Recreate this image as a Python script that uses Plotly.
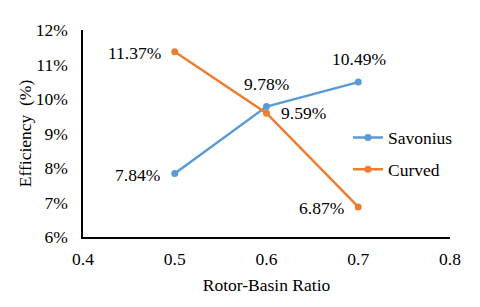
import plotly.graph_objects as go

ratios = [0.5, 0.6, 0.7]
savonius = [7.84, 9.78, 10.49]
curved = [11.37, 9.59, 6.87]
savonius_labels = ["7.84%", "9.78%", "10.49%"]
curved_labels = ["11.37%", "9.59%", "6.87%"]
y_ticks = [6, 7, 8, 9, 10, 11, 12]
y_tick_labels = ["6%", "7%", "8%", "9%", "10%", "11%", "12%"]
x_ticks = [0.4, 0.5, 0.6, 0.7, 0.8]
x_tick_labels = ["0.4", "0.5", "0.6", "0.7", "0.8"]

BLUE = "#5B9BD5"
ORANGE = "#ED7D31"
FONT = "Liberation Serif"
FS = 17.5

fig = go.Figure()
fig.add_trace(go.Scatter(x=ratios, y=savonius, mode="lines+markers", name="Savonius",
                         line=dict(color=BLUE, width=2.5), marker=dict(size=7, color=BLUE),
                         legendgroup="a"))
fig.add_trace(go.Scatter(x=ratios, y=curved, mode="lines+markers", name="Curved",
                         line=dict(color=ORANGE, width=2.5), marker=dict(size=7, color=ORANGE),
                         legendgroup="b"))

sav_shift = [(-37, -1), (0, 23), (1, 23)]
cur_shift = [(-40, -1), (37, 0), (-37, -1.5)]
for x, y, t, (dx, dy) in zip(ratios, savonius, savonius_labels, sav_shift):
    fig.add_annotation(x=x, y=y, text=t, showarrow=False, xshift=dx, yshift=dy,
                       font=dict(family=FONT, size=FS, color="black"))
for x, y, t, (dx, dy) in zip(ratios, curved, curved_labels, cur_shift):
    fig.add_annotation(x=x, y=y, text=t, showarrow=False, xshift=dx, yshift=dy,
                       font=dict(family=FONT, size=FS, color="black"))

fig.update_layout(
    width=472, height=299,
    margin=dict(l=75, r=30, t=19, b=70),
    paper_bgcolor="white", plot_bgcolor="white",
    font=dict(family=FONT, size=FS, color="black"),
    showlegend=True,
    legend=dict(x=0.722, y=0.567, xanchor="left", yanchor="top", tracegroupgap=6,
                font=dict(family=FONT, size=FS), bgcolor="rgba(0,0,0,0)"),
    xaxis=dict(range=[0.4, 0.8], tickvals=x_ticks, ticktext=x_tick_labels,
               showgrid=False, zeroline=False, showline=True, linecolor="black", linewidth=1.5,
               ticks="", ticklabelstandoff=5,
               title=dict(text="Rotor-Basin Ratio", font=dict(size=FS), standoff=11),
               tickfont=dict(size=FS)),
    yaxis=dict(range=[6, 12], tickvals=y_ticks, ticktext=y_tick_labels,
               showgrid=False, zeroline=False, showline=True, linecolor="black", linewidth=1.5,
               ticks="", ticklabelstandoff=10,
               title=dict(text="Efficiency  (%)", font=dict(size=FS), standoff=0),
               tickfont=dict(size=FS)),
)

fig.write_html("out.html")
